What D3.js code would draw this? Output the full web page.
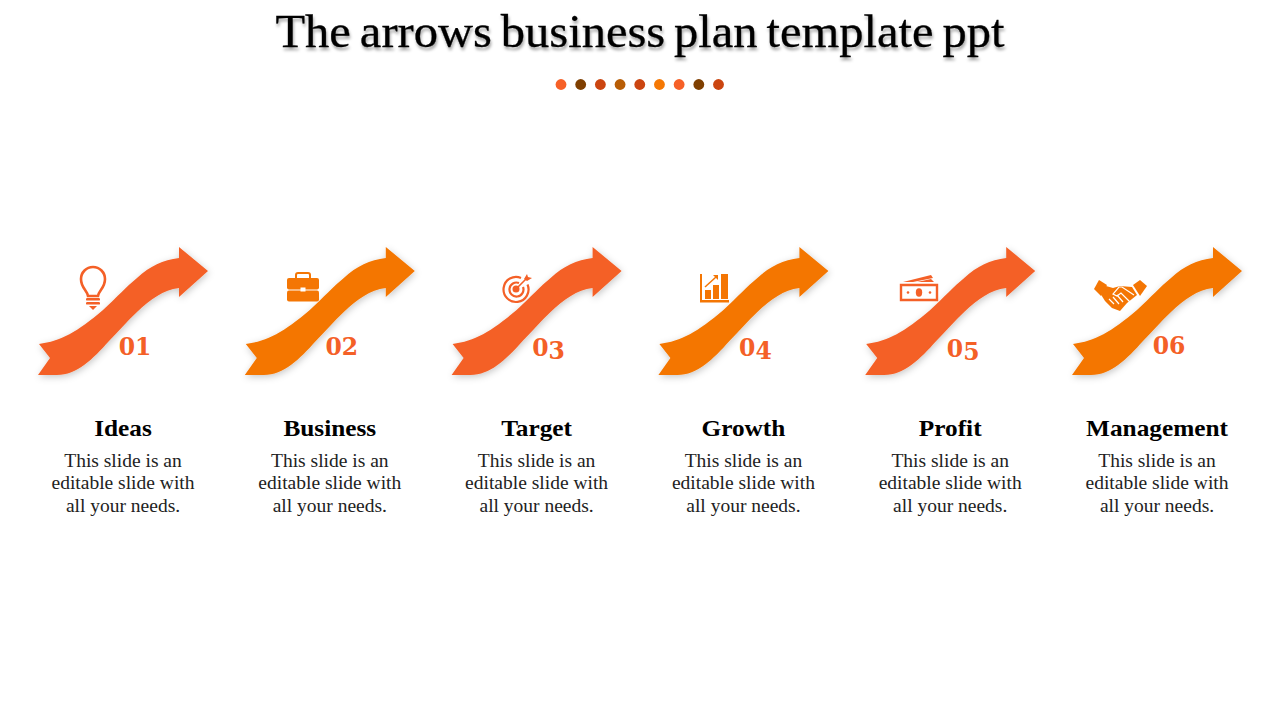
<!DOCTYPE html>
<html>
<head>
<meta charset="utf-8">
<script src="https://cdn.jsdelivr.net/npm/d3@7"></script>
<style>
  html, body { margin: 0; background: #fff; }
  svg { display: block; }
  text { font-family: "Liberation Serif", serif; }
</style>
</head>
<body>
<div id="vis"></div>
<script>
// slide content
var titleText = "The arrows business plan template ppt"
var categories = ["Ideas", "Business", "Target", "Growth", "Profit", "Management"]
var numbers = ["01", "02", "03", "04", "05", "06"]
var bodyLines = ["This slide is an", "editable slide with", "all your needs."]
var arrowColors = ["#F46027", "#F47604", "#F46027", "#F47604", "#F46027", "#F47604"]
var dotColors = ["#F66027", "#7F3F00", "#CB4510", "#B85D05", "#CB4510", "#F57804", "#F66027", "#7F3F00", "#CB4510"]
var numberColor = "#F46027"

var svg = d3.select("#vis").append("svg")
  .attr("width", 1280)
  .attr("height", 720)

var defs = svg.append("defs")
var arrowShadow = defs.append("filter").attr("id", "arrowShadow")
  .attr("x", "-20%").attr("y", "-20%").attr("width", "140%").attr("height", "140%")
arrowShadow.append("feDropShadow")
  .attr("dx", 1).attr("dy", 2).attr("stdDeviation", 3.5)
  .attr("flood-color", "#000").attr("flood-opacity", 0.22)
var titleShadow = defs.append("filter").attr("id", "titleShadow")
  .attr("x", "-5%").attr("y", "-20%").attr("width", "110%").attr("height", "150%")
titleShadow.append("feDropShadow")
  .attr("dx", 1).attr("dy", 3).attr("stdDeviation", 1.5)
  .attr("flood-color", "#000").attr("flood-opacity", 0.35)

// scales
var xScale = d3.scalePoint().domain(categories).range([123, 1157])
var dotScale = d3.scalePoint().domain(d3.range(dotColors.length)).range([561, 718.5])

// title
svg.append("text")
  .attr("x", 640)
  .attr("y", 47)
  .attr("text-anchor", "middle")
  .attr("font-size", 46)
  .attr("textLength", 729)
  .attr("lengthAdjust", "spacingAndGlyphs")
  .attr("word-spacing", -3)
  .attr("fill", "#000")
  .attr("stroke", "#000")
  .attr("stroke-width", 0.3)
  .attr("filter", "url(#titleShadow)")
  .text(titleText)

svg.selectAll(".dot")
  .data(dotColors)
  .enter()
  .append("circle")
    .attr("class", "dot")
    .attr("cx", function(d, i){ return dotScale(i) })
    .attr("cy", 84.5)
    .attr("r", 5.4)
    .style("fill", function(d){ return d })

// arrow outline, relative to the baseline of the column heading
function arrowPath(){
  var p = d3.path()
  p.moveTo(-84, -92)
  p.bezierCurveTo(-62, -95, -46, -104, -20, -126)
  p.bezierCurveTo(-6, -139, 4, -150, 14, -158)
  p.bezierCurveTo(27, -170, 40, -176, 56, -178)
  p.lineTo(56, -189)
  p.lineTo(85, -165)
  p.lineTo(56, -139)
  p.lineTo(56, -148)
  p.bezierCurveTo(40, -146, 28, -137, 14, -124)
  p.bezierCurveTo(4, -115, -4, -105, -14, -95)
  p.bezierCurveTo(-30, -77, -46, -61, -66, -61)
  p.lineTo(-85, -61)
  p.lineTo(-73, -78)
  p.closePath()
  return p.toString()
}

var columns = svg.selectAll(".col")
  .data(categories)
  .enter()
  .append("g")
    .attr("class", "col")
    .attr("transform", function(d){ return "translate(" + xScale(d) + ",436)" })

columns.append("path")
  .attr("d", arrowPath())
  .attr("fill", function(d, i){ return arrowColors[i] })
  .attr("filter", "url(#arrowShadow)")

// numbers: 3, 4 and 5 sit lower like old style figures
columns.append("text")
  .attr("x", function(d, i){ return [12, 12, 12, 12, 13, 12][i] })
  .attr("y", function(d, i){ return [-81, -81, -80, -80, -79, -82][i] })
  .attr("text-anchor", "middle")
  .attr("font-size", 23.5)
  .attr("font-weight", "bold")
  .style("font-family", "'DejaVu Serif', serif")
  .attr("fill", numberColor)
  .each(function(d, i){
    var low = "345".indexOf(numbers[i][1]) >= 0
    d3.select(this).append("tspan").text(numbers[i][0])
    d3.select(this).append("tspan").attr("dy", low ? 3 : 0).text(numbers[i][1])
  })

// headings are widened a little, the original face runs wider
columns.append("text")
  .attr("text-anchor", "middle")
  .attr("font-size", 23)
  .attr("font-weight", "bold")
  .attr("transform", "scale(1.1,1)")
  .attr("fill", "#000")
  .text(function(d){ return d })

columns.selectAll(".body")
  .data(bodyLines)
  .enter()
  .append("text")
    .attr("class", "body")
    .attr("y", function(d, i){ return 30.5 + i * 22.5 })
    .attr("text-anchor", "middle")
    .attr("font-size", 19.5)
    .attr("fill", "#222")
    .text(function(d){ return d })

// icons
function iconGroup(i, x, y){
  return svg.append("g")
    .attr("transform", "translate(" + x + "," + y + ")")
    .attr("fill", arrowColors[i])
    .attr("stroke", arrowColors[i])
    .attr("stroke-width", 0)
}
var bg = "#fff"

// bulb
var bulb = iconGroup(0, 93, 279)
bulb.append("path").attr("fill", "none").attr("stroke-width", 2.6)
  .attr("d", "M-5,17 C-6,11 -12,9 -12,0 A12,12 0 1 1 12,0 C12,9 6,11 5,17 Z")
bulb.append("rect").attr("x", -7).attr("y", 19).attr("width", 14).attr("height", 2.6).attr("rx", 1.2)
bulb.append("rect").attr("x", -7).attr("y", 23).attr("width", 14).attr("height", 2.6).attr("rx", 1.2)
bulb.append("path").attr("d", "M-4,27 L4,27 L0,31 Z")

// briefcase
var brief = iconGroup(1, 303, 288)
brief.append("rect").attr("x", -16).attr("y", -10).attr("width", 32).attr("height", 11.5).attr("rx", 2)
brief.append("rect").attr("x", -16).attr("y", 2.5).attr("width", 32).attr("height", 11).attr("rx", 2)
brief.append("path").attr("fill", "none").attr("stroke-width", 2)
  .attr("d", "M-7,-10 V-13 Q-7,-15 -5,-15 H5 Q7,-15 7,-13 V-10")
brief.append("rect").attr("x", -2.5).attr("y", -0.5).attr("width", 5).attr("height", 4).attr("fill", bg)

// target
var target = iconGroup(2, 516, 289)
target.append("path").attr("fill", "none").attr("stroke-width", 2.2)
  .attr("d", "M5,-11 A12.5,12.5 0 1 0 11.5,-4.5")
target.append("path").attr("fill", "none").attr("stroke-width", 2.2)
  .attr("d", "M3,-6 A7,7 0 1 0 7,-2")
target.append("circle").attr("r", 3.5)
target.append("path").attr("fill", "none").attr("stroke-width", 1.6).attr("d", "M0,0 L11,-11")
target.append("path").attr("d", "M8,-10 L11,-15 L12,-12 L16,-11 L11,-8 Z")

// growth chart
var growth = iconGroup(3, 700, 274)
growth.append("path").attr("d", "M0,0 H2 V26 H29 V28.5 H0 Z")
growth.append("rect").attr("x", 5).attr("y", 16).attr("width", 6).attr("height", 9)
growth.append("rect").attr("x", 13).attr("y", 11).attr("width", 6).attr("height", 14)
growth.append("rect").attr("x", 21).attr("y", 0).attr("width", 7).attr("height", 25)
growth.append("path").attr("fill", "none").attr("stroke-width", 1.5).attr("d", "M5,13 L16,3")
growth.append("path").attr("d", "M13,1 L18,1 L18,6 Z")

// money
var money = iconGroup(4, 919, 292)
money.append("path").attr("fill", "none").attr("stroke-width", 2.4).attr("d", "M-18,-7 H18 V8 H-18 Z")
money.append("ellipse").attr("cx", 0).attr("cy", 0.5).attr("rx", 3.2).attr("ry", 4.2)
money.append("circle").attr("cx", -11).attr("cy", 0.5).attr("r", 1.3)
money.append("circle").attr("cx", 11).attr("cy", 0.5).attr("r", 1.3)
money.append("path").attr("d", "M-16,-10 L12,-17 L14,-14 L-6,-10 Z")
money.append("path").attr("d", "M-2,-10 L12,-13 L15,-10 Z")

// handshake
var shake = iconGroup(5, 1120, 295)
shake.append("path").attr("d", "M-21,-15 L-13,-10 L-19,1 L-26,-6 Z")
shake.append("path").attr("d", "M20,-15 L27,-9 L20,1 L13,-10 Z")
shake.append("path").attr("d", "M-14,-9 L-7,-7 L0,-9 L12,-8 L17,0 L7,8 L0,16 L-8,13 L-15,6 L-20,-2 Z")
shake.append("path").attr("fill", "none").attr("stroke", bg).attr("stroke-width", 1.2)
  .attr("d", "M14,0 L2,-8 L-1,-8 L-7,-1 L-3,1 L1,-2 L10,7 M-11,4 L-6,9 M-7,2 L-1,9 M-3,0 L3,7")
</script>
</body>
</html>
